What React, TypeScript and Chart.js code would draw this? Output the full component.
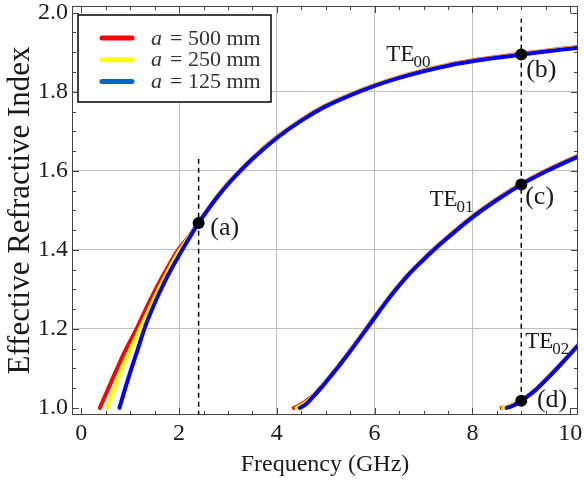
import React, { useEffect, useRef } from 'react';
import { Chart, registerables } from 'chart.js';

Chart.register(...registerables);

// ---------- data ----------
const xTicks = [0, 2, 4, 6, 8, 10];
const yTicks = [1.0, 1.2, 1.4, 1.6, 1.8, 2.0];
const xGridValues = [2, 4, 6, 8];
const yGridValues = [1.2, 1.4, 1.6, 1.8];
const sizes = [500, 250, 125]; // a (mm)

// TE00
const te00F_500 = [0.38, 0.55, 0.69, 0.9, 1.13, 1.32, 1.52, 1.75, 1.97, 2.2, 2.4, 2.6, 2.8, 3.0, 3.2, 3.5, 4.0, 4.5, 5.0, 5.5, 6.0, 6.5, 7.0, 7.5, 8.0, 8.5, 9.0, 9.5, 10.0, 10.3];
const te00N_500 = [1.0, 1.048, 1.088, 1.145, 1.2, 1.25, 1.3, 1.352, 1.398, 1.434, 1.47, 1.505, 1.538, 1.568, 1.595, 1.632, 1.685, 1.729, 1.765, 1.793, 1.817, 1.837, 1.854, 1.868, 1.879, 1.888, 1.896, 1.904, 1.911, 1.915];
const te00F_250 = [0.52, 0.65, 0.79, 1.0, 1.2, 1.39, 1.58, 1.8, 2.0, 2.2, 2.4, 2.6, 2.8, 3.0, 3.2, 3.5, 4.0, 4.5, 5.0, 5.5, 6.0, 6.5, 7.0, 7.5, 8.0, 8.5, 9.0, 9.5, 10.0, 10.3];
const te00N_250 = [1.0, 1.042, 1.088, 1.147, 1.2, 1.25, 1.3, 1.353, 1.396, 1.432, 1.469, 1.504, 1.537, 1.567, 1.594, 1.631, 1.684, 1.728, 1.764, 1.792, 1.816, 1.836, 1.853, 1.867, 1.878, 1.887, 1.895, 1.903, 1.91, 1.914];
const te00F_125 = [0.78, 0.9, 1.0, 1.15, 1.29, 1.45, 1.6, 1.8, 2.0, 2.2, 2.4, 2.6, 2.8, 3.0, 3.2, 3.5, 4.0, 4.5, 5.0, 5.5, 6.0, 6.5, 7.0, 7.5, 8.0, 8.5, 9.0, 9.5, 10.0, 10.3];
const te00N_125 = [1.0, 1.05, 1.09, 1.146, 1.2, 1.25, 1.292, 1.342, 1.386, 1.428, 1.468, 1.503, 1.536, 1.566, 1.593, 1.63, 1.683, 1.727, 1.763, 1.791, 1.815, 1.835, 1.852, 1.866, 1.877, 1.886, 1.894, 1.902, 1.909, 1.913];

// TE01
const te01F_500 = [4.35, 4.5, 4.65, 4.74, 4.9, 5.08, 5.25, 5.42, 5.6, 5.83, 6.0, 6.2, 6.44, 6.7, 7.0, 7.26, 7.5, 8.0, 8.5, 9.0, 9.5, 10.0, 10.3];
const te01N_500 = [1.0, 1.009, 1.022, 1.03, 1.052, 1.079, 1.105, 1.132, 1.162, 1.201, 1.23, 1.264, 1.302, 1.34, 1.377, 1.407, 1.433, 1.484, 1.528, 1.567, 1.6, 1.629, 1.645];
const te01F_250 = [4.4, 4.55, 4.74, 4.9, 5.08, 5.25, 5.42, 5.6, 5.83, 6.0, 6.2, 6.44, 6.7, 7.0, 7.26, 7.5, 8.0, 8.5, 9.0, 9.5, 10.0, 10.3];
const te01N_250 = [1.0, 1.01, 1.029, 1.051, 1.078, 1.104, 1.131, 1.161, 1.2, 1.229, 1.263, 1.301, 1.339, 1.376, 1.406, 1.432, 1.483, 1.527, 1.566, 1.599, 1.628, 1.644];
const te01F_125 = [4.47, 4.6, 4.74, 4.9, 5.08, 5.25, 5.42, 5.6, 5.83, 6.0, 6.2, 6.44, 6.7, 7.0, 7.26, 7.5, 8.0, 8.5, 9.0, 9.5, 10.0, 10.3];
const te01N_125 = [1.0, 1.01, 1.028, 1.05, 1.077, 1.103, 1.13, 1.16, 1.199, 1.228, 1.262, 1.3, 1.338, 1.375, 1.405, 1.431, 1.482, 1.526, 1.565, 1.598, 1.627, 1.643];

// TE02
const te02F_500 = [8.6, 8.75, 8.9, 9.0, 9.15, 9.3, 9.45, 9.64, 9.8, 10.0, 10.11, 10.3];
const te02N_500 = [1.0, 1.004, 1.011, 1.019, 1.032, 1.047, 1.065, 1.089, 1.11, 1.137, 1.152, 1.177];
const te02F_250 = [8.63, 8.78, 8.9, 9.0, 9.15, 9.3, 9.45, 9.64, 9.8, 10.0, 10.11, 10.3];
const te02N_250 = [1.0, 1.005, 1.01, 1.018, 1.031, 1.046, 1.064, 1.088, 1.109, 1.136, 1.151, 1.176];
const te02F_125 = [8.7, 8.8, 8.9, 9.0, 9.15, 9.3, 9.45, 9.64, 9.8, 10.0, 10.11, 10.3];
const te02N_125 = [1.0, 1.004, 1.01, 1.018, 1.031, 1.046, 1.064, 1.088, 1.109, 1.136, 1.151, 1.176];

// marked points (a)-(d)
const markerF = [2.4, 9.0, 9.0, 9.0];
const markerN = [1.468, 1.894, 1.565, 1.018];
const markerNames = ['(a)', '(b)', '(c)', '(d)'];
const markerLabelF = [2.64, 9.1, 9.08, 9.32];
const markerLabelN = [1.455, 1.855, 1.534, 1.02];

// dashed guides
const guideAF = [2.4, 2.4];
const guideAN = [0.98, 1.63];
const guideBF = [9.0, 9.0];
const guideBN = [1.018, 1.985];

// mode labels
const modeNames = ['00', '01', '02'];
const modeLabelF = [6.24, 7.12, 9.08];
const modeLabelN = [1.893, 1.526, 1.168];

// ---------- styles ----------
const curveColors = ['#ff0000', '#ffff00', '#0000ff'];
const legendColors = ['#ff0000', '#ffff00', '#0a64c8'];
const SERIF = '"Liberation Serif", "Times New Roman", serif';
const TEXT = '#1a1a1a';

const pts = (f: number[], n: number[]) => f.map((v, i) => ({ x: v, y: n[i] }));

const curveSets = [
  [pts(te00F_500, te00N_500), pts(te01F_500, te01N_500), pts(te02F_500, te02N_500)],
  [pts(te00F_250, te00N_250), pts(te01F_250, te01N_250), pts(te02F_250, te02N_250)],
  [pts(te00F_125, te00N_125), pts(te01F_125, te01N_125), pts(te02F_125, te02N_125)],
];

const near = (a: number, list: number[]) => list.some((v) => Math.abs(v - a) < 1e-6);

const decorPlugin = {
  id: 'decor',
  afterDatasetsDraw(chart: any) {
    const { ctx, chartArea } = chart;
    const xs = chart.scales.x;
    const ys = chart.scales.y;
    const { left, right, top, bottom } = chartArea;
    ctx.save();

    // frame
    ctx.strokeStyle = '#444';
    ctx.lineWidth = 1;
    ctx.strokeRect(Math.round(left) + 0.5, Math.round(top) + 0.5, Math.round(right - left) - 1, Math.round(bottom - top) - 1);

    // inward ticks
    ctx.beginPath();
    for (let i = 0; i <= 20; i++) {
      const v = i * 0.5;
      const px = Math.round(xs.getPixelForValue(v)) + 0.5;
      if (px < left || px > right) continue;
      const len = i % 4 === 0 ? 7 : 4;
      ctx.moveTo(px, bottom);
      ctx.lineTo(px, bottom - len);
      ctx.moveTo(px, top);
      ctx.lineTo(px, top + len);
    }
    for (let i = 0; i <= 20; i++) {
      const v = 1 + i * 0.05;
      const py = Math.round(ys.getPixelForValue(v)) + 0.5;
      if (py < top || py > bottom) continue;
      const len = i % 4 === 0 ? 7 : 4;
      ctx.moveTo(left, py);
      ctx.lineTo(left + len, py);
      ctx.moveTo(right, py);
      ctx.lineTo(right - len, py);
    }
    ctx.stroke();

    // marker labels
    ctx.fillStyle = TEXT;
    ctx.textBaseline = 'middle';
    ctx.textAlign = 'left';
    ctx.font = `26px ${SERIF}`;
    markerNames.forEach((t, i) => {
      ctx.fillText(t, xs.getPixelForValue(markerLabelF[i]), ys.getPixelForValue(markerLabelN[i]));
    });

    // mode labels TE_mn
    modeNames.forEach((m, i) => {
      const x0 = xs.getPixelForValue(modeLabelF[i]);
      const y0 = ys.getPixelForValue(modeLabelN[i]);
      ctx.font = `23px ${SERIF}`;
      ctx.fillText('TE', x0, y0);
      const w = ctx.measureText('TE').width;
      ctx.font = `17px ${SERIF}`;
      ctx.fillText(m, x0 + w - 1, y0 + 8);
    });

    // legend
    const bx = left + 6, by = top + 9, bw = 193, bh = 87;
    ctx.fillStyle = '#ffffff';
    ctx.fillRect(bx, by, bw, bh);
    ctx.strokeStyle = '#000';
    ctx.lineWidth = 1.5;
    ctx.strokeRect(bx, by, bw, bh);
    sizes.forEach((a, i) => {
      const cy = by + 23 + i * 21.7;
      ctx.strokeStyle = legendColors[i];
      ctx.lineWidth = 5;
      ctx.lineCap = 'round';
      ctx.beginPath();
      ctx.moveTo(bx + 24, cy);
      ctx.lineTo(bx + 54, cy);
      ctx.stroke();
      ctx.fillStyle = '#333';
      ctx.textBaseline = 'middle';
      ctx.font = `italic 22px ${SERIF}`;
      ctx.fillText('a', bx + 73, cy + 1);
      ctx.font = `22px ${SERIF}`;
      ctx.fillText(`= ${a} mm`, bx + 92, cy + 1);
    });

    ctx.restore();
  },
};

export default function App() {
  const ref = useRef<HTMLCanvasElement | null>(null);

  useEffect(() => {
    if (!ref.current) return;
    const datasets: any[] = [];
    datasets.push({
      label: 'points',
      data: pts(markerF, markerN),
      showLine: false,
      pointRadius: 6,
      pointHoverRadius: 6,
      pointBackgroundColor: '#000',
      pointBorderWidth: 0,
      order: 0,
    });
    curveSets.forEach((modes, si) => {
      modes.forEach((d) => {
        datasets.push({
          label: `a = ${sizes[si]} mm`,
          data: d,
          showLine: true,
          borderColor: curveColors[si],
          borderWidth: 4,
          pointRadius: 0,
          cubicInterpolationMode: 'monotone',
          borderCapStyle: 'round',
          order: 3 - si,
        });
      });
    });
    [pts(guideAF, guideAN), pts(guideBF, guideBN)].forEach((d) => {
      datasets.push({
        label: 'guide',
        data: d,
        showLine: true,
        borderColor: '#000',
        borderWidth: 1.5,
        borderDash: [5, 4],
        pointRadius: 0,
        order: 5,
      });
    });

    const chart = new Chart(ref.current, {
      type: 'scatter',
      data: { datasets },
      options: {
        responsive: false,
        devicePixelRatio: 1,
        animation: false,
        events: [],
        layout: { padding: { top: 6, right: 5, left: 0, bottom: 0 } },
        plugins: { legend: { display: false }, tooltip: { enabled: false } },
        scales: {
          x: {
            type: 'linear',
            min: -0.19,
            max: 10.16,
            afterBuildTicks: (s: any) => {
              s.ticks = xTicks.map((v) => ({ value: v }));
            },
            afterFit: (s: any) => {
              s.height = 66;
              s.paddingLeft = 0;
              s.paddingRight = 0;
            },
            ticks: {
              autoSkip: false,
              maxRotation: 0,
              padding: 4,
              color: TEXT,
              font: { family: SERIF, size: 24 },
            },
            grid: {
              drawTicks: false,
              lineWidth: 1,
              color: (c: any) => (c.tick && near(c.tick.value, xGridValues) ? '#c0c0c0' : 'rgba(0,0,0,0)'),
            },
            border: { display: false },
            title: {
              display: true,
              text: 'Frequency (GHz)',
              color: TEXT,
              font: { family: SERIF, size: 24 },
              padding: { top: 0, bottom: 2 },
            },
          },
          y: {
            type: 'linear',
            min: 0.982,
            max: 2.017,
            afterBuildTicks: (s: any) => {
              s.ticks = yTicks.map((v) => ({ value: v }));
            },
            afterFit: (s: any) => {
              s.width = 72;
              s.paddingTop = 0;
              s.paddingBottom = 0;
            },
            ticks: {
              autoSkip: false,
              padding: 4,
              color: TEXT,
              font: { family: SERIF, size: 24 },
              callback: (v: any) => Number(v).toFixed(1),
            },
            grid: {
              drawTicks: false,
              lineWidth: 1,
              color: (c: any) => (c.tick && near(c.tick.value, yGridValues) ? '#c0c0c0' : 'rgba(0,0,0,0)'),
            },
            border: { display: false },
            title: {
              display: true,
              text: 'Effective Refractive Index',
              color: TEXT,
              font: { family: SERIF, size: 31 },
              padding: { top: 2, bottom: 0 },
            },
          },
        },
      },
      plugins: [decorPlugin],
    });
    return () => chart.destroy();
  }, []);

  return (
    <div style={{ position: 'absolute', left: 0, top: 0, width: 584, height: 481, background: '#fff' }}>
      <canvas ref={ref} width={584} height={481} />
    </div>
  );
}
